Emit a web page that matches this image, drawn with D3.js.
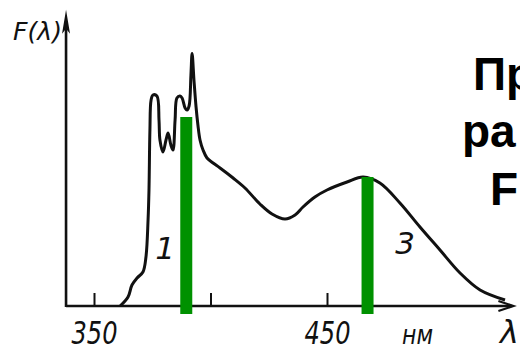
<!DOCTYPE html>
<html>
<head>
<meta charset="utf-8">
<script src="https://cdn.jsdelivr.net/npm/d3@7"></script>
<style>
  html, body { margin: 0; padding: 0; background: #fff; }
  svg { display: block; }
  .hand { font-family: "DejaVu Sans", sans-serif; font-style: italic; fill: #111; }
  .big { font-family: "Liberation Sans", Arial, sans-serif; font-weight: bold; fill: #000; }
</style>
</head>
<body>
<svg id="chart" width="520" height="351"></svg>
<script>
// ---- data ----
const wavelength = [361.2, 364.6, 366.3, 368.5, 371.0, 372.3, 373.2, 373.6, 374.0, 374.5, 375.3, 377.0,
  377.9, 378.3, 379.6, 380.9, 381.8, 383.0, 383.9, 384.8, 385.6, 386.9, 387.8, 389.1, 389.9, 390.8,
  391.6, 392.1, 392.9, 393.8, 394.6, 395.5, 396.8, 398.5, 401.1, 404.1, 409.7, 414.8, 421.2, 426.4,
  432.0, 436.3, 439.7, 444.8, 450.0, 458.6, 465.5, 472.7, 481.3, 489.9, 498.5, 507.1, 515.7, 526.4];
const intensity = [0, 0.036, 0.084, 0.112, 0.136, 0.196, 0.344, 0.464, 0.704, 0.824, 0.844, 0.84,
  0.744, 0.664, 0.616, 0.664, 0.692, 0.644, 0.624, 0.744, 0.832, 0.84, 0.832, 0.792, 0.784, 0.80,
  0.924, 1.01, 0.904, 0.796, 0.724, 0.664, 0.624, 0.592, 0.572, 0.552, 0.512, 0.472, 0.408, 0.368,
  0.348, 0.364, 0.396, 0.436, 0.464, 0.496, 0.516, 0.492, 0.412, 0.316, 0.224, 0.132, 0.064, 0.024];
const markerLambda = [389.6, 467.4];
const markerValue = [0.756, 0.516];
const tickValues = [350, 400, 450];
const tickLabels = ["350", "", "450"];
const axisLambdaRange = [338, 530];
const axisTopValue = 1.185;
const curveLabels = [{text: "1", lambda: 380.5, value: 0.19}, {text: "3", lambda: 483.5, value: 0.21}];
const sideText = ["Пр", "ра", "F"];

// ---- drawing ----
const svg = d3.select("#chart");
const x = d3.scaleLinear().domain([350, 450]).range([94, 327]);
const y = d3.scaleLinear().domain([0, 1]).range([306, 56]);

// axes lines
svg.append("line")
  .attr("x1", x(axisLambdaRange[0])).attr("x2", x(axisLambdaRange[1]) - 2)
  .attr("y1", y(0)).attr("y2", y(0))
  .attr("stroke", "#111").attr("stroke-width", 2.6);
svg.append("line")
  .attr("x1", x(axisLambdaRange[0])).attr("x2", x(axisLambdaRange[0]))
  .attr("y1", y(0) + 1).attr("y2", y(axisTopValue) + 12)
  .attr("stroke", "#111").attr("stroke-width", 2.6);
// y arrow (filled narrow)
const ax0 = x(axisLambdaRange[0]), ay0 = y(axisTopValue);
svg.append("path")
  .attr("d", `M${ax0},${ay0} L${ax0 + 4},${ay0 + 24} L${ax0},${ay0 + 19} L${ax0 - 4},${ay0 + 24} Z`)
  .attr("fill", "#111");
// x arrow (open)
const bx = x(axisLambdaRange[1]), by = y(0);
svg.append("path")
  .attr("d", `M${bx - 15},${by - 5} L${bx},${by} L${bx - 15},${by + 5}`)
  .attr("fill", "none").attr("stroke", "#111").attr("stroke-width", 2.2);

// ticks via d3 axis
const xAxis = d3.axisBottom(x).tickValues(tickValues).tickSize(-13).tickPadding(0)
  .tickFormat((d, i) => tickLabels[i]);
const gx = svg.append("g").attr("transform", `translate(0,${y(0)})`).call(xAxis);
gx.select(".domain").remove();
gx.selectAll(".tick line").attr("stroke", "#111").attr("stroke-width", 2);
gx.selectAll(".tick text")
  .attr("class", "hand")
  .attr("y", 38).attr("dy", 0)
  .attr("font-size", 32)
  .attr("textLength", d => d === 400 ? null : 46)
  .attr("lengthAdjust", "spacingAndGlyphs")
  .attr("fill", "#111");

// curve
const pts = wavelength.map((w, i) => [w, intensity[i]]);
svg.append("path")
  .datum(pts)
  .attr("d", d3.line().x(d => x(d[0])).y(d => y(d[1])).curve(d3.curveCatmullRom.alpha(0.5)))
  .attr("fill", "none").attr("stroke", "#111").attr("stroke-width", 3)
  .attr("stroke-linejoin", "round");

// green markers
svg.selectAll("rect.marker")
  .data(markerLambda)
  .join("rect")
  .attr("class", "marker")
  .attr("x", d => x(d) - 6)
  .attr("width", 12)
  .attr("y", (d, i) => y(markerValue[i]))
  .attr("height", (d, i) => y(0) + 8 - y(markerValue[i]))
  .attr("fill", "#009100");

// curve labels
svg.selectAll("text.clabel")
  .data(curveLabels)
  .join("text")
  .attr("class", "hand clabel")
  .attr("x", d => x(d.lambda)).attr("y", d => y(d.value))
  .attr("font-size", 31)
  .attr("text-anchor", "middle")
  .text(d => d.text);

// axis titles
svg.append("text").attr("class", "hand")
  .attr("x", 13).attr("y", 40).attr("font-size", 25)
  .attr("textLength", 49).attr("lengthAdjust", "spacingAndGlyphs")
  .text("F(λ)");
svg.append("text").attr("class", "hand")
  .attr("x", 402).attr("y", 344).attr("font-size", 26)
  .attr("textLength", 31).attr("lengthAdjust", "spacingAndGlyphs")
  .text("нм");
svg.append("text").attr("class", "hand")
  .attr("x", 500).attr("y", 343).attr("font-size", 32)
  .text("λ");

// side text (cut off at right edge)
svg.selectAll("text.side")
  .data(sideText)
  .join("text")
  .attr("class", "big side")
  .attr("x", (d, i) => [473, 462, 490][i])
  .attr("y", (d, i) => [90, 147, 205][i])
  .attr("font-size", 46)
  .text(d => d);
</script>
</body>
</html>
